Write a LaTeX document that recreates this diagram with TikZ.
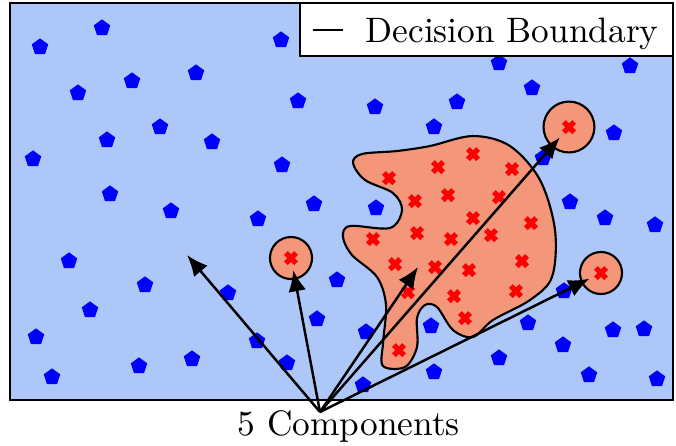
\documentclass[tikz,border=0pt]{standalone}
\usepackage{tikz}
\usetikzlibrary{positioning,arrows.meta,shapes.geometric,shapes.misc}
\definecolor{cBg}{HTML}{ADC8F8}
\definecolor{cBlob}{HTML}{F3967A}
\definecolor{cNeg}{HTML}{0000FF}
\definecolor{cPos}{HTML}{FF0000}
\tikzset{
  negpt/.style={regular polygon,regular polygon sides=5,fill=cNeg,minimum size=4.9pt,inner sep=0pt},
  pospt/.style={cross out,draw=cPos,line width=1.5pt,minimum size=2.9pt,inner sep=0pt,outer sep=0pt},
  blob/.style={draw,fill=cBlob,line width=0.6pt},
  comp/.style={circle,blob,inner sep=0pt},
  arr/.style={-{Latex[length=6pt,width=5pt]},line width=0.7pt},
  lbl/.style={inner sep=0pt}}

\begin{document}
\begin{tikzpicture}[x=0.283pt,y=-0.283pt]
\useasboundingbox (0,0) rectangle (676,445);
\fill[cBg] (10,3) rectangle (673,400);
% negative samples
\foreach \x/\y [count=\i] in {40/47,102/28,281/40,78/93,132/81,196/73,298/101,160/127,
  107/140,212/142,33/159,282/165,110/194,171/211,258/219,314/204,69/261,145/285,
  228/293,90/310,317/319,36/337,257/341,192/359,139/366,287/363,52/377,337/280,
  499/63,630/66,532/88,375/107,457/102,434/127,614/133,543/158,376/208,570/202,
  605/218,655/225,366/332,431/326,528/323,563/345,499/358,434/372,363/385,613/330,
  644/329,589/375,657/379,564/291}
  \node[negpt] (n\i) at (\x,\y) {};
% decision boundary
\draw[blob] plot[smooth cycle,tension=0.55] coordinates {(353,163) (362,154) (397,151)
  (430,146) (473,136) (510,146) (540,180) (555,230) (552,277) (530,300) (493,320)
  (473,337) (453,330) (437,307) (425,305) (417,318) (417,347) (405,367) (383,366)
  (383,343) (386,305) (377,277) (352,255) (343,237) (350,226) (390,228) (402,210)
  (393,193) (365,180)};
\node[comp,minimum size=11.9pt] (cL) at (291,258) {};
\node[comp,minimum size=14.4pt] (cT) at (569,127) {};
\node[comp,minimum size=11.9pt] (cR) at (601,273) {};
% positive samples
\foreach \x/\y [count=\i] in {473/154,438/167,512/169,389/178,415/201,448/195,499/197,
  473/218,531/223,373/239,417/233,451/239,491/235,395/264,435/267,469/270,522/261,
  408/292,454/296,516/291,465/318,399/350}
  \node[pospt] (p\i) at (\x,\y) {};
\node[pospt] (pL) at (cL) {};
\node[pospt] (pT) at (cT) {};
\node[pospt] (pR) at (cR) {};
% components
\node[lbl,anchor=base west] (ncomp) at (237,435) {5 Components};
\coordinate (src) at (320,412);
\coordinate (t1) at (187,255);
\coordinate (t3) at (418,267);
\foreach \t/\s in {t1/0,pL/2,t3/0,pT/2,pR/2}
  \draw[arr,shorten >=\s pt] (src) -- (\t);
% legend
\draw[fill=white,line width=0.6pt] (300,3) rectangle (673,56);
\draw[line width=0.7pt] (313,30) -- (343,30);
\node[lbl,anchor=base west] (nleg) at (365,42) {Decision Boundary};
\draw[line width=0.8pt] (10,3) rectangle (673,400);
\end{tikzpicture}
\end{document}
